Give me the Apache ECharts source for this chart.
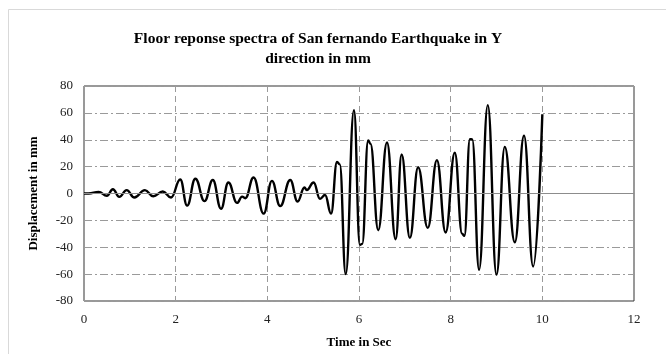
<!DOCTYPE html>
<html>
<head>
<meta charset="utf-8">
<script src="https://cdn.jsdelivr.net/npm/echarts@6/dist/echarts.min.js"></script>
<style>html,body{margin:0;padding:0;background:#fff}#c{width:666px;height:354px}</style>
</head>
<body>
<div id="c"></div>
<script>
// Time (s) of readable peaks/troughs
const times = [0, 0.1, 0.32, 0.5, 0.63, 0.77, 0.93, 1.1, 1.33, 1.51, 1.72, 1.9,
  2.1, 2.25, 2.43, 2.63, 2.81, 2.99, 3.15, 3.34, 3.45, 3.52, 3.70, 3.92,
  4.10, 4.28, 4.50, 4.66, 4.81, 4.86, 5.01, 5.15, 5.26, 5.39, 5.52, 5.58,
  5.71, 5.89, 6.02, 6.07, 6.20, 6.25, 6.42, 6.61, 6.80, 6.93, 7.11, 7.29, 7.50,
  7.70, 7.89, 8.09, 8.25, 8.30, 8.42, 8.47, 8.62, 8.81, 9.0, 9.18, 9.40, 9.60, 9.80, 10.0];
// Displacement (mm)
const displacement = [0, 0, 1.2, -1.7, 3.2, -2.5, 2.5, -3, 2.5, -2, 1.5, -3,
  10.4, -9, 11, -5.7, 10, -11.4, 8.2, -7, -2.3, -3.5, 11.9, -15,
  9.4, -9.4, 10.1, -6, 4.5, 2.5, 8.2, -4, -1.1, -15, 23.5, 21.7,
  -60, 62, -38.3, -37.5, 39.5, 37, -27.3, 38, -34, 29, -33, 19.5, -25.6,
  24.8, -29, 30.3, -30, -31.5, 40.5, 40.3, -56.7, 65.8, -60.4, 34.7, -36.4, 43, -54.3, 59];
const xTicks = [0, 2, 4, 6, 8, 10, 12];
const yTicks = [-80, -60, -40, -20, 0, 20, 40, 60, 80];

const serif = "'Times New Roman', 'Liberation Serif', serif";
const chart = echarts.init(document.getElementById('c'), null, {renderer: 'canvas'});
chart.setOption({
  animation: false,
  backgroundColor: '#fff',
  title: {
    text: 'Floor reponse spectra of San fernando Earthquake in Y\ndirection in mm',
    left: 313, top: 24, textAlign: 'center',
    textStyle: {fontFamily: serif, fontSize: 15.5, fontWeight: 'bold', color: '#000', lineHeight: 20}
  },
  graphic: [{
    type: 'rect', shape: {x: 8.5, y: 9.5, width: 700, height: 400},
    style: {fill: 'none', stroke: '#d9d9d9', lineWidth: 1}, silent: true, z: -1
  }],
  grid: {left: 84, right: 32, top: 86, bottom: 51, show: true, borderColor: '#333', borderWidth: 1, backgroundColor: 'transparent'},
  xAxis: {
    type: 'value', min: xTicks[0], max: xTicks[xTicks.length - 1], interval: 2,
    name: 'Time in Sec', nameLocation: 'middle', nameGap: 35,
    nameTextStyle: {fontFamily: serif, fontSize: 13, fontWeight: 'bold', color: '#000'},
    axisLine: {show: false, onZero: false},
    axisTick: {show: false},
    axisLabel: {fontFamily: serif, fontSize: 13, color: '#222', margin: 12},
    splitLine: {show: true, lineStyle: {color: '#9a9a9a', width: 1, type: [6, 4]}}
  },
  yAxis: {
    type: 'value', min: yTicks[0], max: yTicks[yTicks.length - 1], interval: 20,
    name: 'Displacement in mm', nameLocation: 'middle', nameGap: 44,
    nameTextStyle: {fontFamily: serif, fontSize: 13, fontWeight: 'bold', color: '#000'},
    axisLine: {show: false},
    axisTick: {show: false},
    axisLabel: {fontFamily: serif, fontSize: 13, color: '#222', margin: 11},
    splitLine: {show: true, lineStyle: {color: '#9a9a9a', width: 1, type: [8, 3, 2, 3]}}
  },
  series: [{
    type: 'line',
    data: times.map((t, i) => [t, displacement[i]]),
    showSymbol: false,
    smooth: 0.45,
    smoothMonotone: 'x',
    lineStyle: {color: '#000', width: 2.4},
    markLine: {
      silent: true, symbol: 'none', label: {show: false},
      lineStyle: {color: '#8c8c8c', type: 'solid', width: 1},
      data: [{yAxis: 0}]
    },
    z: 3
  }]
});
</script>
</body>
</html>
